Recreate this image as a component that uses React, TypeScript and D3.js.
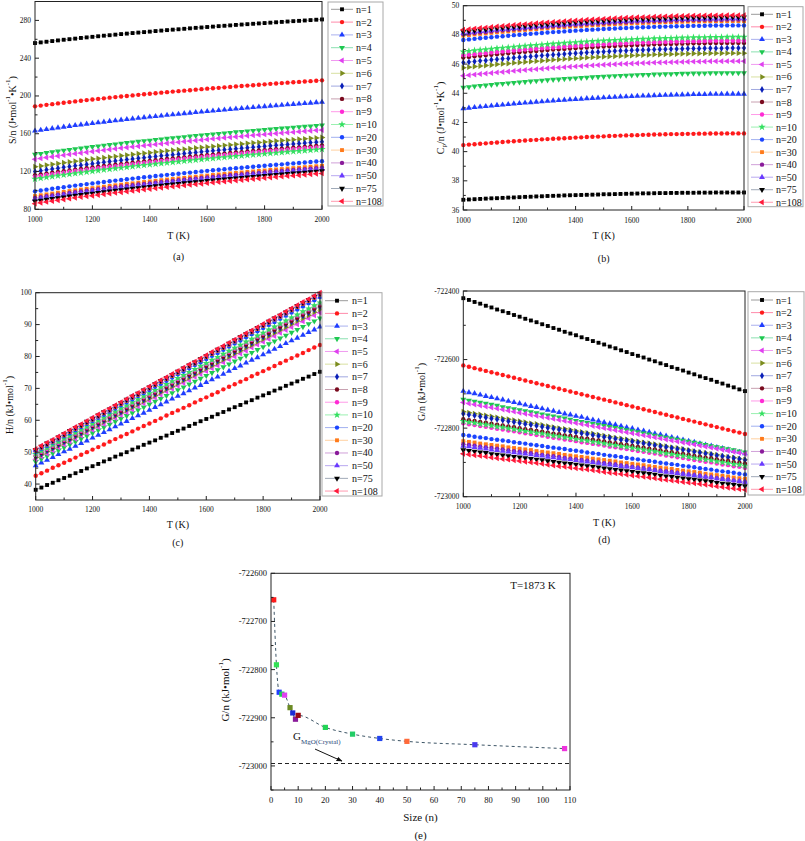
import React from "react";
import * as d3 from "d3";

// ---------------- DATA ----------------
const TEMPS = [1000,1020,1040,1060,1080,1100,1120,1140,1160,1180,1200,1220,1240,1260,1280,1300,1320,1340,1360,1380,1400,1420,1440,1460,1480,1500,1520,1540,1560,1580,1600,1620,1640,1660,1680,1700,1720,1740,1760,1780,1800,1820,1840,1860,1880,1900,1920,1940,1960,1980,2000];

const SERIES_LABELS = ["n=1","n=2","n=3","n=4","n=5","n=6","n=7","n=8","n=9","n=10","n=20","n=30","n=40","n=50","n=75","n=108"];

// (a) S/n, J mol-1 K-1
const S_VALUES: number[][] = [
[256,256.7,257.4,258.1,258.8,259.5,260.1,260.7,261.4,262,262.6,263.2,263.8,264.3,264.9,265.5,266,266.6,267.1,267.6,268.1,268.7,269.2,269.7,270.2,270.6,271.1,271.6,272.1,272.5,273,273.4,273.9,274.3,274.7,275.2,275.6,276,276.4,276.8,277.2,277.6,278,278.4,278.8,279.2,279.5,279.9,280.3,280.7,281],
[189,189.8,190.6,191.3,192.1,192.8,193.5,194.2,194.9,195.6,196.2,196.9,197.5,198.2,198.8,199.4,200,200.6,201.2,201.8,202.3,202.9,203.5,204,204.6,205.1,205.6,206.1,206.7,207.2,207.7,208.1,208.6,209.1,209.6,210.1,210.5,211,211.4,211.9,212.3,212.8,213.2,213.6,214.1,214.5,214.9,215.3,215.7,216.1,216.5],
[163,163.9,164.7,165.6,166.4,167.2,168,168.8,169.5,170.3,171,171.8,172.5,173.2,173.9,174.6,175.2,175.9,176.5,177.2,177.8,178.4,179,179.7,180.3,180.8,181.4,182,182.6,183.1,183.7,184.2,184.8,185.3,185.8,186.4,186.9,187.4,187.9,188.4,188.9,189.4,189.8,190.3,190.8,191.2,191.7,192.2,192.6,193.1,193.5],
[138,138.9,139.8,140.6,141.4,142.3,143.1,143.9,144.6,145.4,146.2,146.9,147.6,148.3,149,149.8,150.4,151.1,151.8,152.4,153,153.7,154.3,154.9,155.6,156.1,156.7,157.3,157.9,158.5,159,159.6,160.1,160.7,161.2,161.8,162.2,162.8,163.3,163.8,164.3,164.8,165.3,165.8,166.2,166.7,167.2,167.6,168.1,168.6,169],
[133,133.9,134.8,135.6,136.4,137.3,138.1,138.9,139.6,140.4,141.2,141.9,142.6,143.3,144,144.8,145.4,146.1,146.8,147.4,148,148.7,149.3,149.9,150.6,151.1,151.7,152.3,152.9,153.5,154,154.6,155.1,155.7,156.2,156.8,157.2,157.8,158.3,158.8,159.3,159.8,160.3,160.8,161.2,161.7,162.2,162.6,163.1,163.6,164],
[125,125.9,126.8,127.6,128.4,129.3,130.1,130.9,131.6,132.4,133.2,133.9,134.6,135.3,136,136.8,137.4,138.1,138.8,139.4,140,140.7,141.3,141.9,142.6,143.1,143.7,144.3,144.9,145.5,146,146.6,147.1,147.7,148.2,148.8,149.2,149.8,150.3,150.8,151.3,151.8,152.3,152.8,153.2,153.7,154.2,154.6,155.1,155.6,156],
[120,120.9,121.8,122.7,123.5,124.4,125.2,126,126.7,127.5,128.3,129,129.8,130.5,131.2,131.9,132.6,133.3,134,134.7,135.3,135.9,136.6,137.2,137.8,138.4,139,139.6,140.2,140.8,141.4,141.9,142.5,143,143.6,144.1,144.6,145.2,145.7,146.2,146.7,147.2,147.7,148.2,148.7,149.2,149.6,150.1,150.6,151.1,151.5],
[116,116.9,117.8,118.7,119.5,120.4,121.2,122,122.7,123.5,124.3,125,125.8,126.5,127.2,127.9,128.6,129.3,130,130.7,131.3,131.9,132.6,133.2,133.8,134.4,135,135.6,136.2,136.8,137.4,137.9,138.5,139,139.6,140.1,140.6,141.2,141.7,142.2,142.7,143.2,143.7,144.2,144.7,145.2,145.6,146.1,146.6,147.1,147.5],
[114.5,115.4,116.3,117.2,118,118.9,119.7,120.5,121.2,122,122.8,123.5,124.3,125,125.7,126.4,127.1,127.8,128.5,129.2,129.8,130.4,131.1,131.7,132.3,132.9,133.5,134.1,134.7,135.3,135.9,136.4,137,137.5,138.1,138.6,139.1,139.7,140.2,140.7,141.2,141.7,142.2,142.7,143.2,143.7,144.1,144.6,145.1,145.6,146],
[112,112.9,113.8,114.7,115.5,116.4,117.2,118,118.7,119.5,120.3,121,121.8,122.5,123.2,123.9,124.6,125.3,126,126.7,127.3,127.9,128.6,129.2,129.8,130.4,131,131.6,132.2,132.8,133.4,133.9,134.5,135,135.6,136.1,136.6,137.2,137.7,138.2,138.7,139.2,139.7,140.2,140.7,141.2,141.6,142.1,142.6,143.1,143.5],
[99,99.9,100.8,101.7,102.6,103.4,104.3,105.1,105.9,106.7,107.4,108.2,108.9,109.7,110.4,111.1,111.8,112.5,113.2,113.9,114.5,115.2,115.8,116.5,117.1,117.7,118.3,118.9,119.5,120.1,120.7,121.3,121.9,122.4,123,123.5,124,124.6,125.1,125.6,126.1,126.7,127.2,127.6,128.2,128.6,129.1,129.6,130.1,130.6,131],
[94,94.9,95.8,96.7,97.6,98.4,99.3,100.1,100.9,101.7,102.4,103.2,103.9,104.7,105.4,106.1,106.8,107.5,108.2,108.9,109.5,110.2,110.8,111.5,112.1,112.7,113.3,113.9,114.5,115.1,115.7,116.3,116.9,117.4,118,118.5,119,119.6,120.1,120.6,121.1,121.7,122.2,122.6,123.2,123.6,124.1,124.6,125.1,125.6,126],
[92,92.9,93.8,94.7,95.6,96.4,97.3,98.1,98.9,99.7,100.4,101.2,101.9,102.7,103.4,104.1,104.8,105.5,106.2,106.9,107.5,108.2,108.8,109.5,110.1,110.7,111.3,111.9,112.5,113.1,113.7,114.3,114.9,115.4,116,116.5,117,117.6,118.1,118.6,119.1,119.7,120.2,120.6,121.2,121.6,122.1,122.6,123.1,123.6,124],
[90.5,91.4,92.3,93.2,94.1,94.9,95.8,96.6,97.4,98.2,98.9,99.7,100.4,101.2,101.9,102.6,103.3,104,104.7,105.4,106,106.7,107.3,108,108.6,109.2,109.8,110.4,111,111.6,112.2,112.8,113.4,113.9,114.5,115,115.5,116.1,116.6,117.1,117.6,118.2,118.7,119.1,119.7,120.1,120.6,121.1,121.6,122.1,122.5],
[88.5,89.4,90.3,91.2,92.1,92.9,93.8,94.6,95.4,96.2,96.9,97.7,98.4,99.2,99.9,100.6,101.3,102,102.7,103.4,104,104.7,105.3,106,106.6,107.2,107.8,108.4,109,109.6,110.2,110.8,111.4,111.9,112.5,113,113.5,114.1,114.6,115.1,115.6,116.2,116.7,117.1,117.7,118.1,118.6,119.1,119.6,120.1,120.5],
[86,86.9,87.8,88.7,89.6,90.4,91.3,92.1,92.9,93.7,94.4,95.2,95.9,96.7,97.4,98.1,98.8,99.5,100.2,100.9,101.5,102.2,102.8,103.5,104.1,104.7,105.3,105.9,106.5,107.1,107.7,108.3,108.9,109.4,110,110.5,111,111.6,112.1,112.6,113.1,113.7,114.2,114.6,115.2,115.6,116.1,116.6,117.1,117.6,118],
];

// (b) Cp/n, J mol-1 K-1
const CP_VALUES: number[][] = [
[36.7,36.72,36.74,36.76,36.78,36.8,36.81,36.83,36.85,36.86,36.88,36.9,36.91,36.93,36.94,36.96,36.97,36.98,37,37.01,37.02,37.03,37.04,37.05,37.06,37.08,37.08,37.09,37.1,37.11,37.12,37.13,37.14,37.14,37.15,37.16,37.16,37.17,37.17,37.18,37.18,37.18,37.19,37.19,37.19,37.2,37.2,37.2,37.2,37.2,37.2],
[40.45,40.48,40.51,40.54,40.57,40.6,40.63,40.66,40.69,40.71,40.74,40.76,40.79,40.81,40.84,40.86,40.88,40.9,40.92,40.94,40.96,40.98,41,41.02,41.03,41.05,41.07,41.08,41.1,41.11,41.12,41.13,41.15,41.16,41.17,41.18,41.19,41.2,41.2,41.21,41.22,41.22,41.23,41.23,41.24,41.24,41.24,41.25,41.25,41.25,41.25],
[42.95,42.99,43.03,43.07,43.1,43.14,43.18,43.21,43.24,43.28,43.31,43.34,43.37,43.4,43.43,43.46,43.49,43.51,43.54,43.57,43.59,43.61,43.64,43.66,43.68,43.7,43.72,43.74,43.76,43.77,43.79,43.81,43.82,43.83,43.85,43.86,43.87,43.88,43.89,43.9,43.91,43.92,43.92,43.93,43.94,43.94,43.94,43.95,43.95,43.95,43.95],
[44.4,44.44,44.48,44.52,44.55,44.59,44.63,44.66,44.69,44.73,44.76,44.79,44.82,44.85,44.88,44.91,44.94,44.96,44.99,45.02,45.04,45.06,45.09,45.11,45.13,45.15,45.17,45.19,45.21,45.22,45.24,45.26,45.27,45.28,45.3,45.31,45.32,45.33,45.34,45.35,45.36,45.37,45.37,45.38,45.39,45.39,45.39,45.4,45.4,45.4,45.4],
[45.2,45.24,45.28,45.32,45.35,45.39,45.43,45.46,45.49,45.53,45.56,45.59,45.62,45.65,45.68,45.71,45.74,45.76,45.79,45.82,45.84,45.86,45.89,45.91,45.93,45.95,45.97,45.99,46.01,46.02,46.04,46.06,46.07,46.08,46.1,46.11,46.12,46.13,46.14,46.15,46.16,46.17,46.17,46.18,46.19,46.19,46.19,46.2,46.2,46.2,46.2],
[45.75,45.79,45.83,45.87,45.9,45.94,45.98,46.01,46.04,46.08,46.11,46.14,46.17,46.2,46.23,46.26,46.29,46.31,46.34,46.37,46.39,46.41,46.44,46.46,46.48,46.5,46.52,46.54,46.56,46.57,46.59,46.61,46.62,46.63,46.65,46.66,46.67,46.68,46.69,46.7,46.71,46.72,46.72,46.73,46.74,46.74,46.74,46.75,46.75,46.75,46.75],
[46.1,46.14,46.18,46.22,46.25,46.29,46.33,46.36,46.39,46.43,46.46,46.49,46.52,46.55,46.58,46.61,46.64,46.66,46.69,46.72,46.74,46.76,46.79,46.81,46.83,46.85,46.87,46.89,46.91,46.92,46.94,46.96,46.97,46.98,47,47.01,47.02,47.03,47.04,47.05,47.06,47.07,47.07,47.08,47.09,47.09,47.09,47.1,47.1,47.1,47.1],
[46.45,46.49,46.53,46.57,46.6,46.64,46.68,46.71,46.74,46.78,46.81,46.84,46.87,46.9,46.93,46.96,46.99,47.01,47.04,47.07,47.09,47.11,47.14,47.16,47.18,47.2,47.22,47.24,47.26,47.27,47.29,47.31,47.32,47.33,47.35,47.36,47.37,47.38,47.39,47.4,47.41,47.42,47.42,47.43,47.44,47.44,47.44,47.45,47.45,47.45,47.45],
[46.6,46.64,46.68,46.72,46.75,46.79,46.83,46.86,46.89,46.93,46.96,46.99,47.02,47.05,47.08,47.11,47.14,47.16,47.19,47.22,47.24,47.26,47.29,47.31,47.33,47.35,47.37,47.39,47.41,47.42,47.44,47.46,47.47,47.48,47.5,47.51,47.52,47.53,47.54,47.55,47.56,47.57,47.57,47.58,47.59,47.59,47.59,47.6,47.6,47.6,47.6],
[46.85,46.89,46.93,46.97,47,47.04,47.08,47.11,47.14,47.18,47.21,47.24,47.27,47.3,47.33,47.36,47.39,47.41,47.44,47.47,47.49,47.51,47.54,47.56,47.58,47.6,47.62,47.64,47.66,47.67,47.69,47.71,47.72,47.73,47.75,47.76,47.77,47.78,47.79,47.8,47.81,47.82,47.82,47.83,47.84,47.84,47.84,47.85,47.85,47.85,47.85],
[47.65,47.69,47.73,47.77,47.8,47.84,47.88,47.91,47.94,47.98,48.01,48.04,48.07,48.1,48.13,48.16,48.19,48.21,48.24,48.27,48.29,48.31,48.34,48.36,48.38,48.4,48.42,48.44,48.46,48.47,48.49,48.51,48.52,48.53,48.55,48.56,48.57,48.58,48.59,48.6,48.61,48.62,48.62,48.63,48.64,48.64,48.64,48.65,48.65,48.65,48.65],
[47.95,47.99,48.03,48.07,48.1,48.14,48.18,48.21,48.24,48.28,48.31,48.34,48.37,48.4,48.43,48.46,48.49,48.51,48.54,48.57,48.59,48.61,48.64,48.66,48.68,48.7,48.72,48.74,48.76,48.77,48.79,48.81,48.82,48.83,48.85,48.86,48.87,48.88,48.89,48.9,48.91,48.92,48.92,48.93,48.94,48.94,48.94,48.95,48.95,48.95,48.95],
[48.05,48.09,48.13,48.17,48.2,48.24,48.28,48.31,48.34,48.38,48.41,48.44,48.47,48.5,48.53,48.56,48.59,48.61,48.64,48.67,48.69,48.71,48.74,48.76,48.78,48.8,48.82,48.84,48.86,48.87,48.89,48.91,48.92,48.93,48.95,48.96,48.97,48.98,48.99,49,49.01,49.02,49.02,49.03,49.04,49.04,49.04,49.05,49.05,49.05,49.05],
[48.12,48.16,48.2,48.24,48.27,48.31,48.35,48.38,48.41,48.45,48.48,48.51,48.54,48.57,48.6,48.63,48.66,48.68,48.71,48.74,48.76,48.78,48.81,48.83,48.85,48.87,48.89,48.91,48.93,48.94,48.96,48.98,48.99,49,49.02,49.03,49.04,49.05,49.06,49.07,49.08,49.09,49.09,49.1,49.11,49.11,49.11,49.12,49.12,49.12,49.12],
[48.22,48.26,48.3,48.34,48.37,48.41,48.45,48.48,48.51,48.55,48.58,48.61,48.64,48.67,48.7,48.73,48.76,48.78,48.81,48.84,48.86,48.88,48.91,48.93,48.95,48.97,48.99,49.01,49.03,49.04,49.06,49.08,49.09,49.1,49.12,49.13,49.14,49.15,49.16,49.17,49.18,49.19,49.19,49.2,49.21,49.21,49.21,49.22,49.22,49.22,49.22],
[48.35,48.39,48.43,48.47,48.5,48.54,48.58,48.61,48.64,48.68,48.71,48.74,48.77,48.8,48.83,48.86,48.89,48.91,48.94,48.97,48.99,49.01,49.04,49.06,49.08,49.1,49.12,49.14,49.16,49.17,49.19,49.21,49.22,49.23,49.25,49.26,49.27,49.28,49.29,49.3,49.31,49.32,49.32,49.33,49.34,49.34,49.34,49.35,49.35,49.35,49.35],
];

// (c) H/n, kJ mol-1
const H_VALUES: number[][] = [
[38.2,38.9,39.7,40.4,41.2,41.9,42.6,43.4,44.1,44.9,45.6,46.3,47.1,47.8,48.6,49.3,50,50.8,51.5,52.3,53,53.7,54.5,55.2,56,56.7,57.4,58.2,58.9,59.7,60.4,61.1,61.9,62.6,63.4,64.1,64.8,65.6,66.3,67.1,67.8,68.5,69.3,70,70.8,71.5,72.2,73,73.7,74.5,75.2],
[42.6,43.4,44.2,45.1,45.9,46.7,47.5,48.3,49.2,50,50.8,51.6,52.4,53.3,54.1,54.9,55.7,56.5,57.4,58.2,59,59.8,60.6,61.5,62.3,63.1,63.9,64.7,65.6,66.4,67.2,68,68.8,69.7,70.5,71.3,72.1,72.9,73.8,74.6,75.4,76.2,77,77.9,78.7,79.5,80.3,81.1,82,82.8,83.6],
[45.8,46.7,47.5,48.4,49.3,50.2,51,51.9,52.8,53.6,54.5,55.4,56.2,57.1,58,58.9,59.7,60.6,61.5,62.3,63.2,64.1,64.9,65.8,66.7,67.6,68.4,69.3,70.2,71,71.9,72.8,73.6,74.5,75.4,76.3,77.1,78,78.9,79.7,80.6,81.5,82.3,83.2,84.1,85,85.8,86.7,87.6,88.4,89.3],
[47,47.9,48.8,49.7,50.6,51.5,52.4,53.3,54.2,55.1,56,56.9,57.8,58.7,59.6,60.5,61.4,62.3,63.2,64.1,65,65.9,66.8,67.7,68.6,69.5,70.4,71.3,72.2,73.1,74,74.9,75.8,76.7,77.6,78.5,79.4,80.3,81.2,82.1,83,83.9,84.8,85.7,86.6,87.5,88.4,89.3,90.2,91.1,92],
[47.8,48.7,49.6,50.6,51.5,52.4,53.3,54.2,55.2,56.1,57,57.9,58.8,59.8,60.7,61.6,62.5,63.4,64.4,65.3,66.2,67.1,68,69,69.9,70.8,71.7,72.6,73.6,74.5,75.4,76.3,77.2,78.2,79.1,80,80.9,81.8,82.8,83.7,84.6,85.5,86.4,87.4,88.3,89.2,90.1,91,92,92.9,93.8],
[48.3,49.2,50.2,51.1,52,53,53.9,54.8,55.7,56.7,57.6,58.5,59.5,60.4,61.3,62.3,63.2,64.1,65,66,66.9,67.8,68.8,69.7,70.6,71.6,72.5,73.4,74.3,75.3,76.2,77.1,78.1,79,79.9,80.9,81.8,82.7,83.6,84.6,85.5,86.4,87.4,88.3,89.2,90.2,91.1,92,92.9,93.9,94.8],
[48.6,49.5,50.5,51.4,52.4,53.3,54.2,55.2,56.1,57.1,58,58.9,59.9,60.8,61.8,62.7,63.6,64.6,65.5,66.5,67.4,68.3,69.3,70.2,71.2,72.1,73,74,74.9,75.9,76.8,77.7,78.7,79.6,80.6,81.5,82.4,83.4,84.3,85.3,86.2,87.1,88.1,89,90,90.9,91.8,92.8,93.7,94.7,95.6],
[48.9,49.8,50.8,51.7,52.7,53.6,54.5,55.5,56.4,57.4,58.3,59.2,60.2,61.1,62.1,63,63.9,64.9,65.8,66.8,67.7,68.6,69.6,70.5,71.5,72.4,73.3,74.3,75.2,76.2,77.1,78,79,79.9,80.9,81.8,82.7,83.7,84.6,85.6,86.5,87.4,88.4,89.3,90.3,91.2,92.1,93.1,94,95,95.9],
[49.1,50.1,51,52,52.9,53.9,54.8,55.8,56.7,57.7,58.6,59.6,60.5,61.5,62.4,63.4,64.3,65.3,66.2,67.2,68.1,69.1,70,71,71.9,72.9,73.8,74.8,75.7,76.7,77.6,78.6,79.5,80.5,81.4,82.4,83.3,84.3,85.2,86.2,87.1,88.1,89,90,90.9,91.9,92.8,93.8,94.7,95.7,96.6],
[49.4,50.4,51.3,52.3,53.2,54.2,55.1,56.1,57,58,58.9,59.9,60.8,61.8,62.7,63.7,64.6,65.6,66.5,67.5,68.4,69.4,70.3,71.3,72.2,73.2,74.1,75.1,76,77,77.9,78.9,79.8,80.8,81.7,82.7,83.6,84.6,85.5,86.5,87.4,88.4,89.3,90.3,91.2,92.2,93.1,94.1,95,96,96.9],
[50.1,51.1,52,53,54,55,55.9,56.9,57.9,58.8,59.8,60.8,61.7,62.7,63.7,64.7,65.6,66.6,67.6,68.5,69.5,70.5,71.4,72.4,73.4,74.4,75.3,76.3,77.3,78.2,79.2,80.2,81.1,82.1,83.1,84.1,85,86,87,87.9,88.9,89.9,90.8,91.8,92.8,93.8,94.7,95.7,96.7,97.6,98.6],
[50.4,51.4,52.4,53.3,54.3,55.3,56.3,57.3,58.2,59.2,60.2,61.2,62.2,63.1,64.1,65.1,66.1,67.1,68,69,70,71,72,72.9,73.9,74.9,75.9,76.9,77.8,78.8,79.8,80.8,81.8,82.7,83.7,84.7,85.7,86.7,87.6,88.6,89.6,90.6,91.6,92.5,93.5,94.5,95.5,96.5,97.4,98.4,99.4],
[50.6,51.6,52.6,53.5,54.5,55.5,56.5,57.5,58.4,59.4,60.4,61.4,62.4,63.3,64.3,65.3,66.3,67.3,68.2,69.2,70.2,71.2,72.2,73.1,74.1,75.1,76.1,77.1,78,79,80,81,82,82.9,83.9,84.9,85.9,86.9,87.8,88.8,89.8,90.8,91.8,92.7,93.7,94.7,95.7,96.7,97.6,98.6,99.6],
[50.7,51.7,52.7,53.6,54.6,55.6,56.6,57.6,58.5,59.5,60.5,61.5,62.5,63.4,64.4,65.4,66.4,67.4,68.3,69.3,70.3,71.3,72.3,73.2,74.2,75.2,76.2,77.2,78.1,79.1,80.1,81.1,82.1,83,84,85,86,87,87.9,88.9,89.9,90.9,91.9,92.8,93.8,94.8,95.8,96.8,97.7,98.7,99.7],
[50.8,51.8,52.8,53.7,54.7,55.7,56.7,57.7,58.6,59.6,60.6,61.6,62.6,63.5,64.5,65.5,66.5,67.5,68.4,69.4,70.4,71.4,72.4,73.3,74.3,75.3,76.3,77.3,78.2,79.2,80.2,81.2,82.2,83.1,84.1,85.1,86.1,87.1,88,89,90,91,92,92.9,93.9,94.9,95.9,96.9,97.8,98.8,99.8],
[51,52,53,53.9,54.9,55.9,56.9,57.9,58.8,59.8,60.8,61.8,62.8,63.7,64.7,65.7,66.7,67.7,68.6,69.6,70.6,71.6,72.6,73.5,74.5,75.5,76.5,77.5,78.4,79.4,80.4,81.4,82.4,83.3,84.3,85.3,86.3,87.3,88.2,89.2,90.2,91.2,92.2,93.1,94.1,95.1,96.1,97.1,98,99,100],
];

// (d) G/n, kJ mol-1
const G_VALUES: number[][] = [
[-722421,-722426,-722432,-722437,-722443,-722448,-722454,-722459,-722464,-722470,-722475,-722481,-722486,-722491,-722497,-722502,-722508,-722513,-722519,-722524,-722529,-722535,-722540,-722546,-722551,-722556,-722562,-722567,-722573,-722578,-722584,-722589,-722594,-722600,-722605,-722611,-722616,-722622,-722627,-722632,-722638,-722643,-722649,-722654,-722659,-722665,-722670,-722676,-722681,-722687,-722692],
[-722617,-722621,-722625,-722629,-722633,-722637,-722641,-722645,-722649,-722653,-722657,-722661,-722665,-722669,-722673,-722677,-722681,-722685,-722689,-722693,-722697,-722701,-722705,-722709,-722713,-722717,-722721,-722725,-722729,-722733,-722737,-722741,-722745,-722749,-722753,-722757,-722761,-722765,-722769,-722773,-722777,-722781,-722785,-722789,-722793,-722797,-722801,-722805,-722809,-722813,-722817],
[-722692,-722696,-722699,-722703,-722707,-722710,-722714,-722717,-722721,-722725,-722728,-722732,-722736,-722739,-722743,-722747,-722750,-722754,-722758,-722761,-722765,-722768,-722772,-722776,-722779,-722783,-722787,-722790,-722794,-722798,-722801,-722805,-722808,-722812,-722816,-722819,-722823,-722827,-722830,-722834,-722838,-722841,-722845,-722849,-722852,-722856,-722859,-722863,-722867,-722870,-722874],
[-722716,-722719,-722722,-722725,-722728,-722731,-722734,-722738,-722741,-722744,-722747,-722750,-722753,-722756,-722759,-722762,-722765,-722768,-722771,-722775,-722778,-722781,-722784,-722787,-722790,-722793,-722796,-722799,-722802,-722805,-722808,-722811,-722815,-722818,-722821,-722824,-722827,-722830,-722833,-722836,-722839,-722842,-722845,-722848,-722852,-722855,-722858,-722861,-722864,-722867,-722870],
[-722725,-722728,-722731,-722734,-722737,-722740,-722743,-722746,-722749,-722752,-722755,-722758,-722761,-722764,-722767,-722770,-722773,-722776,-722779,-722782,-722785,-722788,-722791,-722794,-722797,-722800,-722803,-722806,-722809,-722812,-722815,-722818,-722821,-722824,-722827,-722830,-722833,-722836,-722839,-722842,-722845,-722848,-722851,-722854,-722857,-722860,-722863,-722866,-722869,-722872,-722875],
[-722752,-722755,-722758,-722760,-722763,-722766,-722769,-722772,-722774,-722777,-722780,-722783,-722786,-722788,-722791,-722794,-722797,-722800,-722802,-722805,-722808,-722811,-722814,-722816,-722819,-722822,-722825,-722828,-722830,-722833,-722836,-722839,-722842,-722844,-722847,-722850,-722853,-722856,-722858,-722861,-722864,-722867,-722870,-722872,-722875,-722878,-722881,-722884,-722886,-722889,-722892],
[-722758,-722761,-722763,-722766,-722769,-722772,-722774,-722777,-722780,-722782,-722785,-722788,-722790,-722793,-722796,-722799,-722801,-722804,-722807,-722809,-722812,-722815,-722817,-722820,-722823,-722826,-722828,-722831,-722834,-722836,-722839,-722842,-722844,-722847,-722850,-722853,-722855,-722858,-722861,-722863,-722866,-722869,-722871,-722874,-722877,-722880,-722882,-722885,-722888,-722890,-722893],
[-722774,-722777,-722779,-722782,-722784,-722787,-722790,-722792,-722795,-722797,-722800,-722803,-722805,-722808,-722810,-722813,-722816,-722818,-722821,-722823,-722826,-722829,-722831,-722834,-722836,-722839,-722842,-722844,-722847,-722849,-722852,-722855,-722857,-722860,-722862,-722865,-722868,-722870,-722873,-722875,-722878,-722881,-722883,-722886,-722888,-722891,-722894,-722896,-722899,-722901,-722904],
[-722786,-722789,-722791,-722794,-722796,-722799,-722802,-722804,-722807,-722809,-722812,-722815,-722817,-722820,-722822,-722825,-722828,-722830,-722833,-722835,-722838,-722841,-722843,-722846,-722848,-722851,-722854,-722856,-722859,-722861,-722864,-722867,-722869,-722872,-722874,-722877,-722880,-722882,-722885,-722887,-722890,-722893,-722895,-722898,-722900,-722903,-722906,-722908,-722911,-722913,-722916],
[-722780,-722783,-722785,-722788,-722790,-722793,-722796,-722798,-722801,-722803,-722806,-722809,-722811,-722814,-722816,-722819,-722822,-722824,-722827,-722829,-722832,-722835,-722837,-722840,-722842,-722845,-722848,-722850,-722853,-722855,-722858,-722861,-722863,-722866,-722868,-722871,-722874,-722876,-722879,-722881,-722884,-722887,-722889,-722892,-722894,-722897,-722900,-722902,-722905,-722907,-722910],
[-722820,-722822,-722825,-722827,-722829,-722832,-722834,-722836,-722838,-722841,-722843,-722845,-722848,-722850,-722852,-722855,-722857,-722859,-722861,-722864,-722866,-722868,-722871,-722873,-722875,-722878,-722880,-722882,-722884,-722887,-722889,-722891,-722894,-722896,-722898,-722901,-722903,-722905,-722907,-722910,-722912,-722914,-722917,-722919,-722921,-722924,-722926,-722928,-722930,-722933,-722935],
[-722838,-722840,-722842,-722845,-722847,-722849,-722851,-722853,-722856,-722858,-722860,-722862,-722864,-722867,-722869,-722871,-722873,-722875,-722878,-722880,-722882,-722884,-722886,-722889,-722891,-722893,-722895,-722897,-722900,-722902,-722904,-722906,-722908,-722911,-722913,-722915,-722917,-722919,-722922,-722924,-722926,-722928,-722930,-722933,-722935,-722937,-722939,-722941,-722944,-722946,-722948],
[-722847,-722849,-722851,-722854,-722856,-722858,-722860,-722862,-722865,-722867,-722869,-722871,-722873,-722876,-722878,-722880,-722882,-722884,-722887,-722889,-722891,-722893,-722895,-722898,-722900,-722902,-722904,-722906,-722909,-722911,-722913,-722915,-722917,-722920,-722922,-722924,-722926,-722928,-722931,-722933,-722935,-722937,-722939,-722942,-722944,-722946,-722948,-722950,-722953,-722955,-722957],
[-722852,-722854,-722856,-722858,-722860,-722863,-722865,-722867,-722869,-722871,-722873,-722875,-722877,-722879,-722881,-722884,-722886,-722888,-722890,-722892,-722894,-722896,-722898,-722900,-722902,-722905,-722907,-722909,-722911,-722913,-722915,-722917,-722919,-722921,-722923,-722926,-722928,-722930,-722932,-722934,-722936,-722938,-722940,-722942,-722944,-722947,-722949,-722951,-722953,-722955,-722957],
[-722864,-722866,-722868,-722870,-722872,-722875,-722877,-722879,-722881,-722883,-722885,-722887,-722889,-722891,-722893,-722896,-722898,-722900,-722902,-722904,-722906,-722908,-722910,-722912,-722914,-722917,-722919,-722921,-722923,-722925,-722927,-722929,-722931,-722933,-722935,-722938,-722940,-722942,-722944,-722946,-722948,-722950,-722952,-722954,-722956,-722959,-722961,-722963,-722965,-722967,-722969],
[-722875,-722877,-722879,-722881,-722883,-722886,-722888,-722890,-722892,-722894,-722896,-722898,-722900,-722902,-722904,-722907,-722909,-722911,-722913,-722915,-722917,-722919,-722921,-722923,-722925,-722928,-722930,-722932,-722934,-722936,-722938,-722940,-722942,-722944,-722946,-722949,-722951,-722953,-722955,-722957,-722959,-722961,-722963,-722965,-722967,-722970,-722972,-722974,-722976,-722978,-722980],
];

// (e) G/n at T = 1873 K versus cluster size
const SIZE_N = [1,2,3,4,5,7,8,9,10,20,30,40,50,75,108];
const SIZE_G = [-722655,-722790,-722847,-722851,-722853,-722879,-722890,-722903,-722895,-722920,-722934,-722943,-722949,-722956,-722964];
const CRYSTAL_G = -722995;

// Tick labels
const T_TICKS = [1000,1200,1400,1600,1800,2000];
const T_MINOR = [1100,1300,1500,1700,1900];
const S_TICKS = [80,120,160,200,240,280];
const S_MINOR = [100,140,180,220,260];
const CP_TICKS = [36,38,40,42,44,46,48,50];
const CP_MINOR = [37,39,41,43,45,47,49];
const H_TICKS = [40,50,60,70,80,90,100];
const H_MINOR = [45,55,65,75,85,95];
const G_TICKS = [-723000,-722800,-722600,-722400];
const G_MINOR = [-722900,-722700,-722500];
const SIZE_TICKS = [0,10,20,30,40,50,60,70,80,90,100,110];
const SIZE_MINOR = [5,15,25,35,45,55,65,75,85,95,105];
const SIZE_G_TICKS = [-723000,-722900,-722800,-722700,-722600];
const SIZE_G_MINOR = [-723050,-722950,-722850,-722750,-722650];

// ---------------- STYLE ----------------
const FONT = "'Liberation Serif', 'Times New Roman', Times, serif";
const MARKER_COLORS = ["#000000","#ff1a1a","#1f3dff","#1ec850","#e040f0","#7b8c1e","#0a1fb8","#7a0a1e","#ff2ad4","#33e060","#1a44ff","#ff7a1a","#8a1a9a","#6a3aff","#000000","#ff1a3a"];
const LINE_COLORS = ["#9a9a9a","#ff8aaa","#aab0ee","#8ae0b0","#f09af0","#d8e0a0","#a0a8e0","#c8a0b0","#ff9ae8","#9af0b0","#a0b0f0","#ffd0a0","#d0a0d8","#b8a8f0","#a0aab8","#ff9ab0"];
const MARKER_SHAPES = ["square","circle","up","down","left","right","diamond","circle","circle","star","circle","square","circle","up","down","left"];
const SIZE_COLORS = ["#ff1a1a","#33e055","#1f3dff","#22cc55","#e040f0","#6b8a23","#1a2ad8","#8a1a9a","#990a14","#22d455","#22cc66","#2244ee","#ff6a3a","#4a3aee","#ee33dd"];

const SYM = {
  square: d3.symbol(d3.symbolSquare, 15)() as string,
  circle: d3.symbol(d3.symbolCircle, 15)() as string,
  tri: d3.symbol(d3.symbolTriangle, 15)() as string,
  diamond: d3.symbol(d3.symbolDiamond, 14)() as string,
  star: d3.symbol(d3.symbolStar, 17)() as string,
};
function shapeOf(s: string): { d: string; rot: number } {
  switch (s) {
    case "square": return { d: SYM.square, rot: 0 };
    case "circle": return { d: SYM.circle, rot: 0 };
    case "up": return { d: SYM.tri, rot: 0 };
    case "down": return { d: SYM.tri, rot: 180 };
    case "left": return { d: SYM.tri, rot: -90 };
    case "right": return { d: SYM.tri, rot: 90 };
    case "diamond": return { d: SYM.diamond, rot: 0 };
    default: return { d: SYM.star, rot: 0 };
  }
}

interface LegendCfg { x: number; y: number; w: number; h: number; first: number; step: number; mx: number; l0: number; l1: number; tx: number; }
interface PanelCfg {
  left: number; right: number; top: number; bottom: number;
  yDomain: [number, number]; yTicks: number[]; yMinor: number[];
  yLabel: React.ReactNode; yLabelX: number; yLabelY: number;
  tickY: number; titleY: number; letter: string; letterY: number;
  legend: LegendCfg;
}

const sup = (t: string) => <tspan fontSize={7} baselineShift="super">{t}</tspan>;

function Panel({ cfg, data }: { cfg: PanelCfg; data: number[][] }) {
  const x = d3.scaleLinear().domain([1000, 2000]).range([cfg.left, cfg.right]);
  const y = d3.scaleLinear().domain(cfg.yDomain).range([cfg.bottom, cfg.top]);
  const line = d3.line<[number, number]>().x(d => x(d[0])).y(d => y(d[1]));
  const L = cfg.legend;
  const cx = (cfg.left + cfg.right) / 2;
  return (
    <g>
      {data.map((vals, si) => {
        const pts: [number, number][] = [];
        vals.forEach((v, i) => { if (TEMPS[i] !== undefined && isFinite(v)) pts.push([TEMPS[i], v]); });
        const sh = shapeOf(MARKER_SHAPES[si]);
        return (
          <g key={si}>
            <path d={line(pts) || ""} fill="none" stroke={LINE_COLORS[si]} strokeWidth={0.8} />
            {pts.map((p, i) => (
              <path key={i} d={sh.d} fill={MARKER_COLORS[si]}
                transform={`translate(${x(p[0]).toFixed(2)},${y(p[1]).toFixed(2)})${sh.rot ? ` rotate(${sh.rot})` : ""}`} />
            ))}
          </g>
        );
      })}
      <rect x={cfg.left} y={cfg.top} width={cfg.right - cfg.left} height={cfg.bottom - cfg.top} fill="none" stroke="#222" strokeWidth={1} />
      {T_TICKS.map(t => (
        <g key={"xt" + t}>
          <line x1={x(t)} x2={x(t)} y1={cfg.bottom} y2={cfg.bottom - 4} stroke="#222" />
          <text x={x(t)} y={cfg.tickY} textAnchor="middle" dominantBaseline="central" fontSize={7.5}>{t}</text>
        </g>
      ))}
      {T_MINOR.map(t => <line key={"xm" + t} x1={x(t)} x2={x(t)} y1={cfg.bottom} y2={cfg.bottom - 2.5} stroke="#222" />)}
      {cfg.yTicks.map(v => (
        <g key={"yt" + v}>
          <line x1={cfg.left} x2={cfg.left + 4} y1={y(v)} y2={y(v)} stroke="#222" />
          <text x={cfg.left - 4} y={y(v)} textAnchor="end" dominantBaseline="central" fontSize={7.5}>{v}</text>
        </g>
      ))}
      {cfg.yMinor.map(v => <line key={"ym" + v} x1={cfg.left} x2={cfg.left + 2.5} y1={y(v)} y2={y(v)} stroke="#222" />)}
      <text x={cx} y={cfg.titleY} textAnchor="middle" dominantBaseline="central" fontSize={10}>T (K)</text>
      <text x={cx} y={cfg.letterY} textAnchor="middle" dominantBaseline="central" fontSize={10}>{cfg.letter}</text>
      <text transform={`translate(${cfg.yLabelX},${cfg.yLabelY}) rotate(-90)`} textAnchor="middle" dominantBaseline="central" fontSize={10}>{cfg.yLabel}</text>
      <rect x={L.x} y={L.y} width={L.w} height={L.h} fill="#fff" stroke="#a8a8a8" strokeWidth={1} />
      {SERIES_LABELS.map((lab, si) => {
        const ly = L.first + si * L.step;
        const sh = shapeOf(MARKER_SHAPES[si]);
        return (
          <g key={lab}>
            <line x1={L.l0} x2={L.l1} y1={ly} y2={ly} stroke={LINE_COLORS[si]} strokeWidth={1} />
            <path d={sh.d} fill={MARKER_COLORS[si]} transform={`translate(${L.mx},${ly})${sh.rot ? ` rotate(${sh.rot})` : ""}`} />
            <text x={L.tx} y={ly} dominantBaseline="central" fontSize={10}>{lab}</text>
          </g>
        );
      })}
    </g>
  );
}

const PANEL_A: PanelCfg = {
  left: 35, right: 322, top: 1.5, bottom: 209.3, yDomain: [80, 300], yTicks: S_TICKS, yMinor: S_MINOR,
  yLabel: <>S/n (J•mol{sup("-1")}•K{sup("-1")})</>, yLabelX: 12, yLabelY: 110,
  tickY: 219, titleY: 235, letter: "(a)", letterY: 256,
  legend: { x: 328, y: 2, w: 55, h: 204, first: 9.3, step: 12.8, mx: 342, l0: 331, l1: 353, tx: 356 },
};
const PANEL_B: PanelCfg = {
  left: 463.3, right: 744, top: 5.7, bottom: 210, yDomain: [36, 50], yTicks: CP_TICKS, yMinor: CP_MINOR,
  yLabel: <>C<tspan fontSize={7} baselineShift="sub">p</tspan>/n (J•mol{sup("-1")}•K{sup("-1")})</>, yLabelX: 440, yLabelY: 118,
  tickY: 220, titleY: 235, letter: "(b)", letterY: 258,
  legend: { x: 748, y: 6.7, w: 55, h: 200, first: 14.3, step: 12.53, mx: 762, l0: 751, l1: 773, tx: 776 },
};
const PANEL_C: PanelCfg = {
  left: 35.7, right: 320, top: 292.7, bottom: 500, yDomain: [35, 100], yTicks: H_TICKS, yMinor: H_MINOR,
  yLabel: <>H/n (kJ•mol{sup("-1")})</>, yLabelX: 9, yLabelY: 405,
  tickY: 509, titleY: 524, letter: "(c)", letterY: 542,
  legend: { x: 322, y: 292.7, w: 60, h: 203.3, first: 300.7, step: 12.69, mx: 337, l0: 325, l1: 348, tx: 352 },
};
const PANEL_D: PanelCfg = {
  left: 463.3, right: 745, top: 291, bottom: 496.7, yDomain: [-723000, -722400], yTicks: G_TICKS, yMinor: G_MINOR,
  yLabel: <>G/n (kJ•mol{sup("-1")})</>, yLabelX: 421, yLabelY: 392,
  tickY: 506.7, titleY: 522.7, letter: "(d)", letterY: 539,
  legend: { x: 748, y: 291.7, w: 56, h: 203.3, first: 300, step: 12.62, mx: 762, l0: 751, l1: 773, tx: 776 },
};

function PanelE() {
  const left = 271, right = 570, top = 573.3, bottom = 790;
  const x = d3.scaleLinear().domain([0, 110]).range([left, right]);
  const y = d3.scaleLinear().domain([-723050, -722600]).range([bottom, top]);
  const pts: [number, number][] = SIZE_N.map((n, i) => [n, SIZE_G[i]]);
  const line = d3.line<[number, number]>().x(d => x(d[0])).y(d => y(d[1])).curve(d3.curveMonotoneX);
  const arrowFrom: [number, number] = [16.2, -722965];
  const arrowTo: [number, number] = [26.1, -722990];
  const labelAt: [number, number] = [8.1, -722946];
  return (
    <g>
      <defs>
        <marker id="arrowHead" viewBox="0 0 10 10" refX="9" refY="5" markerWidth="6" markerHeight="6" orient="auto">
          <path d="M0,1 L10,5 L0,9 Z" fill="#111" />
        </marker>
      </defs>
      <line x1={left} x2={right} y1={y(CRYSTAL_G)} y2={y(CRYSTAL_G)} stroke="#222" strokeWidth={1.2} strokeDasharray="4,3" />
      <path d={line(pts) || ""} fill="none" stroke="#3d5566" strokeWidth={1} strokeDasharray="3,3" />
      {pts.map((p, i) => (
        <rect key={i} x={x(p[0]) - 2.6} y={y(p[1]) - 2.6} width={5.2} height={5.2} fill={SIZE_COLORS[i]} />
      ))}
      <line x1={x(arrowFrom[0])} y1={y(arrowFrom[1])} x2={x(arrowTo[0])} y2={y(arrowTo[1])} stroke="#111" strokeWidth={1} markerEnd="url(#arrowHead)" />
      <text x={x(labelAt[0])} y={y(labelAt[1])} fontSize={11}>G<tspan fontSize={7} baselineShift="sub" fill="#2a4a7a">MgO(Crystal)</tspan></text>
      <rect x={left} y={top} width={right - left} height={bottom - top} fill="none" stroke="#222" strokeWidth={1} />
      {SIZE_TICKS.map(t => (
        <g key={"xt" + t}>
          <line x1={x(t)} x2={x(t)} y1={bottom} y2={bottom - 4} stroke="#222" />
          <text x={x(t)} y={800} textAnchor="middle" dominantBaseline="central" fontSize={8.5}>{t}</text>
        </g>
      ))}
      {SIZE_MINOR.map(t => <line key={"xm" + t} x1={x(t)} x2={x(t)} y1={bottom} y2={bottom - 2.5} stroke="#222" />)}
      {SIZE_G_TICKS.map(v => (
        <g key={"yt" + v}>
          <line x1={left} x2={left + 4} y1={y(v)} y2={y(v)} stroke="#222" />
          <text x={left - 4} y={y(v)} textAnchor="end" dominantBaseline="central" fontSize={8.5}>{v}</text>
        </g>
      ))}
      {SIZE_G_MINOR.map(v => <line key={"ym" + v} x1={left} x2={left + 2.5} y1={y(v)} y2={y(v)} stroke="#222" />)}
      <text x={533} y={585} textAnchor="middle" dominantBaseline="central" fontSize={11}>T=1873 K</text>
      <text x={(left + right) / 2} y={816.7} textAnchor="middle" dominantBaseline="central" fontSize={11}>Size (n)</text>
      <text x={(left + right) / 2} y={835} textAnchor="middle" dominantBaseline="central" fontSize={11}>(e)</text>
      <text transform={`translate(225,690) rotate(-90)`} textAnchor="middle" dominantBaseline="central" fontSize={11}>G/n (kJ•mol{sup("-1")})</text>
    </g>
  );
}

export default function App() {
  return (
    <svg width={805} height={841} viewBox="0 0 805 841"
      style={{ position: "absolute", left: 0, top: 0, background: "#fff", display: "block" }}
      fontFamily={FONT} fill="#111">
      <rect x={0} y={0} width={805} height={841} fill="#fff" />
      <Panel cfg={PANEL_A} data={S_VALUES} />
      <Panel cfg={PANEL_B} data={CP_VALUES} />
      <Panel cfg={PANEL_C} data={H_VALUES} />
      <Panel cfg={PANEL_D} data={G_VALUES} />
      <PanelE />
    </svg>
  );
}
